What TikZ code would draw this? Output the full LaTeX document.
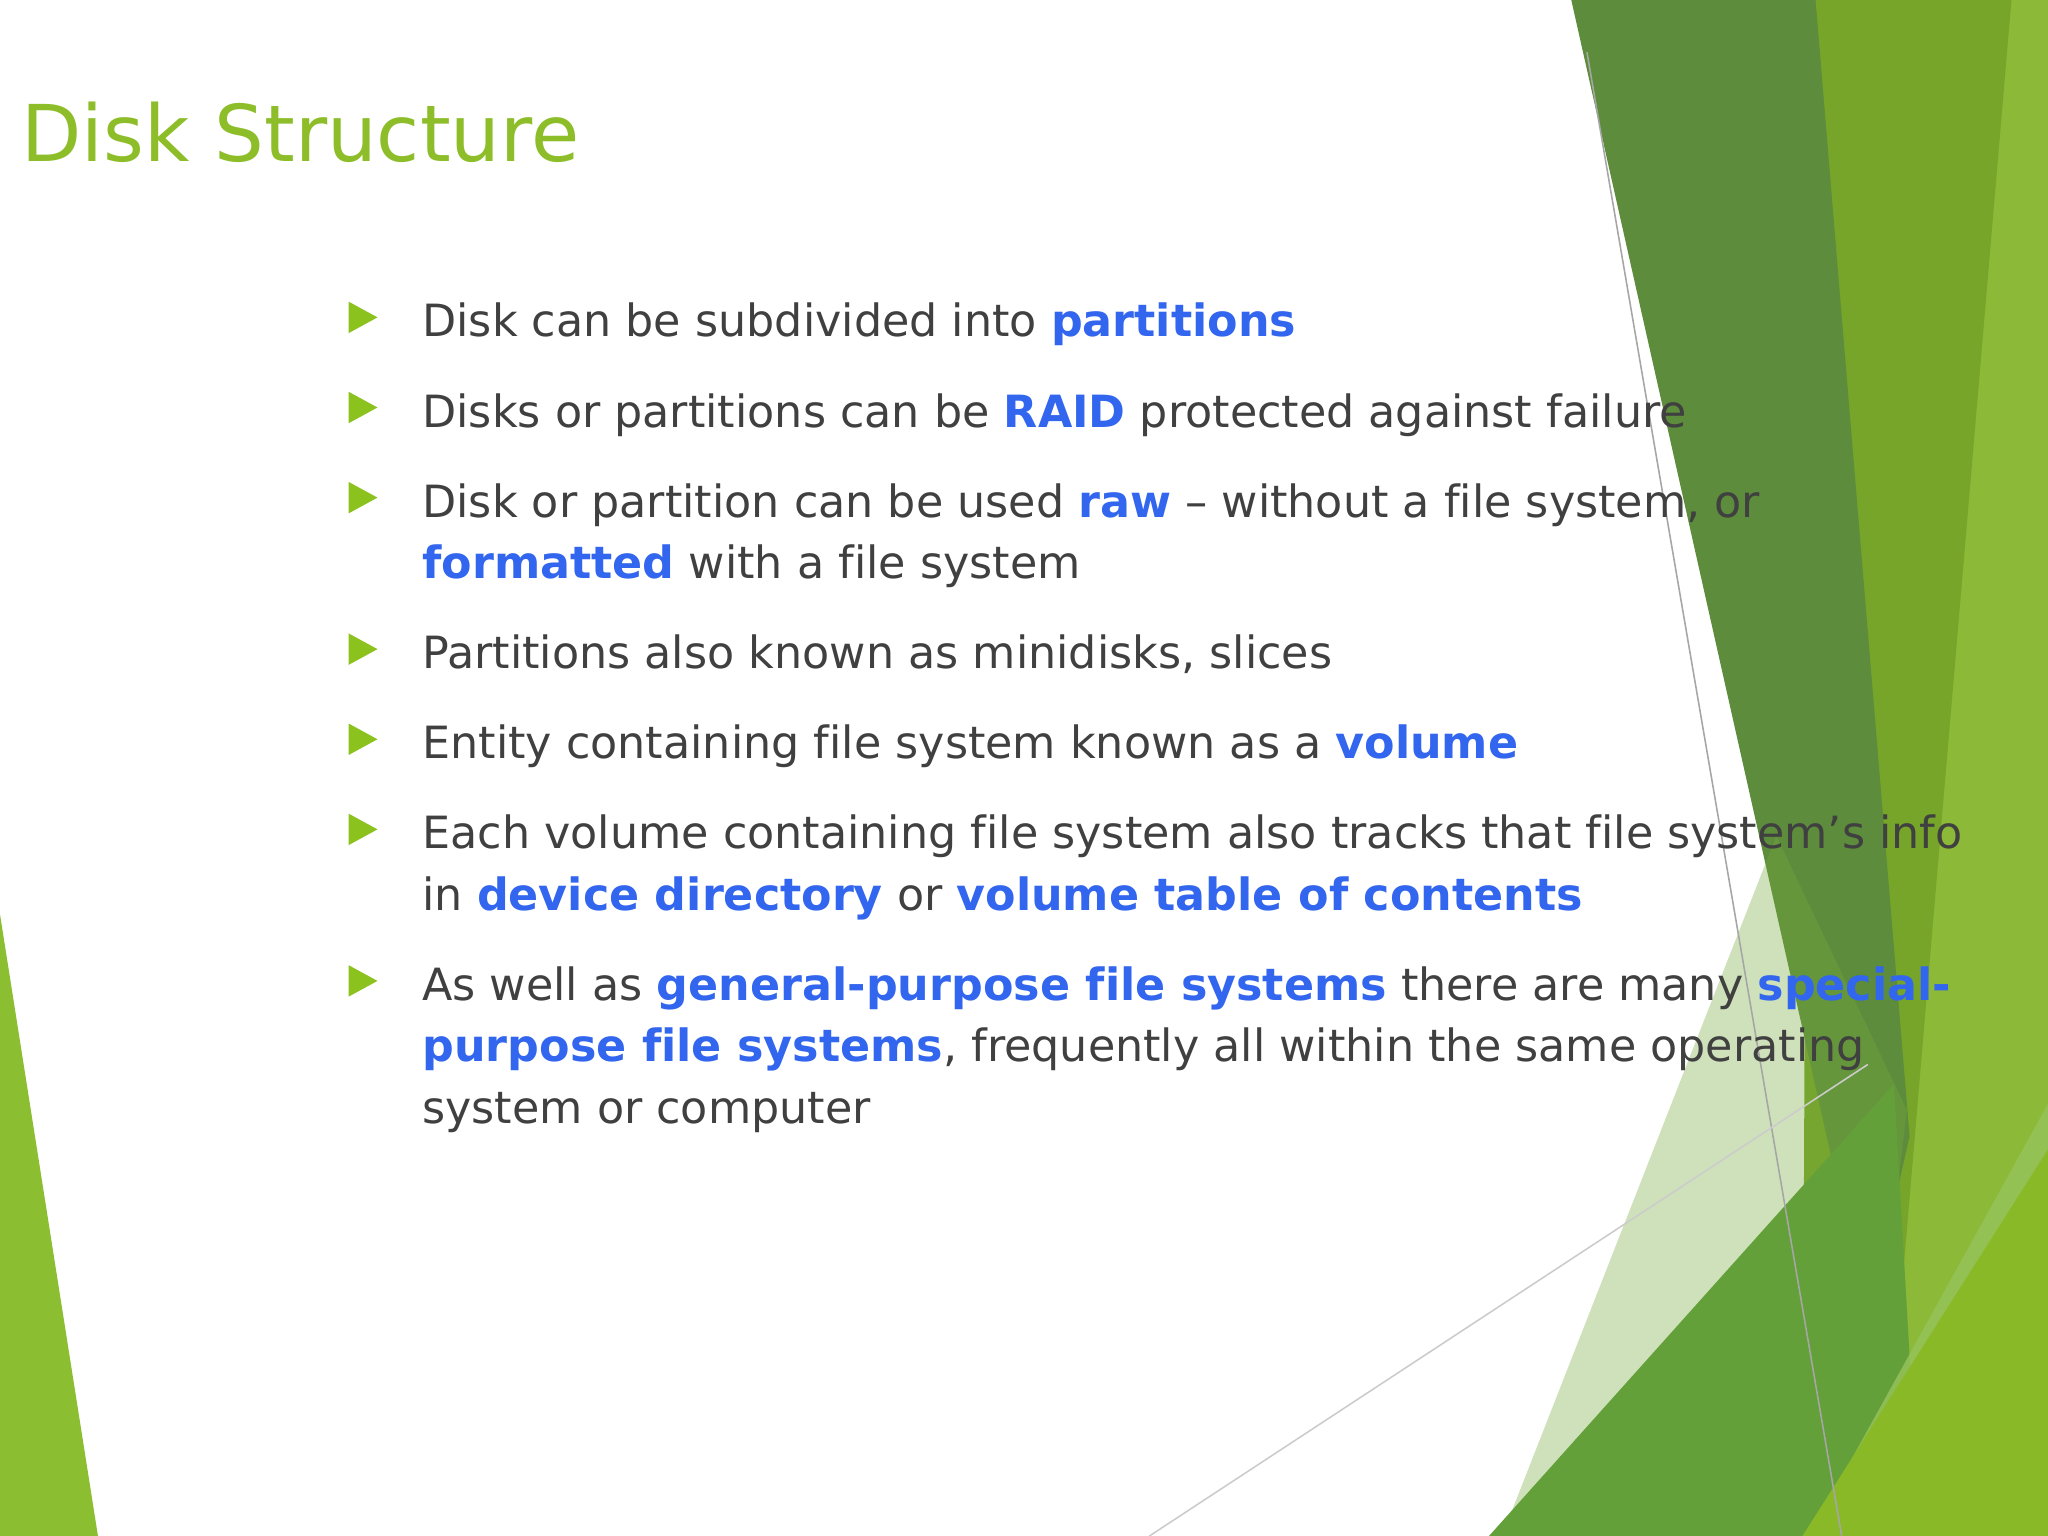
\documentclass[tikz,border=0pt]{standalone}
\usepackage{fontspec}
\setmainfont[Ligatures=NoCommon]{DejaVu Sans}
\begin{document}
\begin{tikzpicture}[x=0.5pt,y=-0.5pt,
  txt/.style={anchor=base west,inner sep=0pt,font=\fontsize{17}{20}\selectfont,text=tgray},
  bul/.style={fill=bgreen}]
\definecolor{tgray}{HTML}{404040}
\definecolor{kw}{HTML}{3366EE}
\definecolor{bgreen}{HTML}{8CC21E}
\definecolor{ttl}{HTML}{8DBE2A}
\newcommand{\kw}[1]{\textcolor{kw}{\textbf{#1}}}
\useasboundingbox (0,0) rectangle (1568,1176);
\fill[white] (0,0) rectangle (1568,1176);
% background shapes
\fill[color={rgb,255:red,140;green,185;blue,55}] (1530,0) -- (1568,0) -- (1568,1176) -- (1420,1176) -- cycle;
\fill[color={rgb,255:red,118;green,165;blue,42}] (1385,0) -- (1540,0) -- (1440,1176) -- (1380,1176) -- cycle;
\fill[color={rgb,255:red,92;green,140;blue,60}] (1203,0) -- (1390,0) -- (1462,870) -- (1430,1010) -- cycle;
\fill[color={rgb,255:red,120;green,170;blue,60},opacity=0.35] (1150,1176) -- (1360,640) -- (1460,850) -- (1420,1176) -- cycle;
\fill[color={rgb,255:red,100;green,160;blue,58}] (1140,1176) -- (1450,830) -- (1470,1176) -- cycle;
\fill[color={rgb,255:red,150;green,195;blue,90},opacity=0.8] (1385,1176) -- (1568,845) -- (1568,1176) -- cycle;
\fill[color={rgb,255:red,138;green,185;blue,40}] (1380,1176) -- (1568,880) -- (1568,1176) -- cycle;
\fill[color={rgb,255:red,140;green,190;blue,50}] (0,700) -- (75,1176) -- (0,1176) -- cycle;
\draw[gray!70,line width=0.6] (1215,40) -- (1410,1176);
\draw[gray!40,line width=0.6] (880,1176) -- (1430,815);
% title
\node[anchor=base west,inner sep=0pt,text=ttl,font=\fontsize{30}{36}\selectfont] (title) at (16,124) {Disk Structure};
% bullets
\foreach \y [count=\i] in {243,312,381,497,566,635,751}{
  \fill[bul] (267,\y-12) -- (289,\y) -- (267,\y+12) -- cycle;
}
\node[txt] (l1) at (323,258) {Disk can be subdivided into \kw{partitions}};
\node[txt] (l2) at (323,327) {Disks or partitions can be \kw{RAID} protected against failure};
\node[txt] (l3) at (323,396) {Disk or partition can be used \kw{raw} – without a file system, or};
\node[txt] (l3b) at (323,443) {\kw{formatted} with a file system};
\node[txt] (l4) at (323,512) {Partitions also known as minidisks, slices};
\node[txt] (l5) at (323,581) {Entity containing file system known as a \kw{volume}};
\node[txt] (l6) at (323,650) {Each volume containing file system also tracks that file system’s info};
\node[txt] (l6b) at (323,697) {in \kw{device directory} or \kw{volume table of contents}};
\node[txt] (l7) at (323,766) {As well as \kw{general-purpose file systems} there are many \kw{special-}};
\node[txt] (l7b) at (323,813) {\kw{purpose file systems}, frequently all within the same operating};
\node[txt] (l7c) at (323,860) {system or computer};
\end{tikzpicture}
\end{document}
